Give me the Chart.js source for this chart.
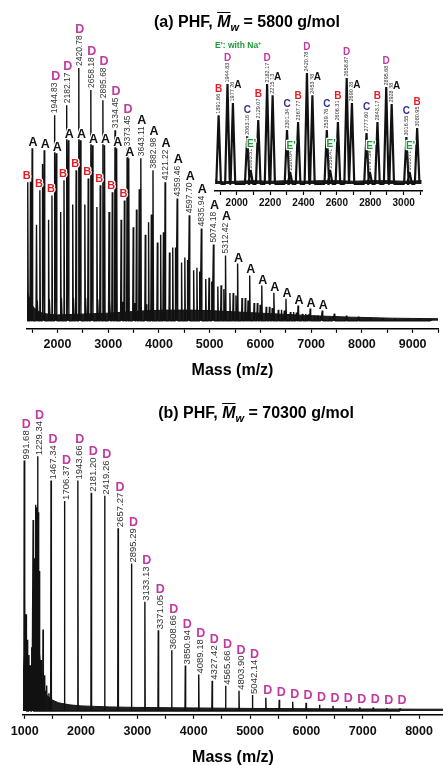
<!DOCTYPE html>
<html>
<head>
<meta charset="utf-8">
<script src="https://cdn.jsdelivr.net/npm/chart.js@4.4.0/dist/chart.umd.min.js"></script>
<style>
  body { margin: 0; width: 443px; height: 765px; position: relative; overflow: hidden; background: #fff;
         font-family: "Liberation Sans", Arial, sans-serif; }
  .box { position: absolute; }
  .ttl { position: absolute; font-weight: bold; font-size: 16px; line-height: 18px; white-space: nowrap;
         transform: translateX(-50%); color: #000; }
  .ttl .mw { font-style: italic; text-decoration: overline; }
  .ttl sub { font-style: italic; font-size: 11px; vertical-align: -4px; line-height: 0; }
  .na { position: absolute; font-weight: bold; font-size: 8.5px; color: #1f9a3a; white-space: nowrap; }
  .na sup { font-size: 6px; vertical-align: 3px; line-height: 0; }
</style>
</head>
<body>
<div class="box" style="left:0;top:0"><canvas id="chartA" width="443" height="385"></canvas></div>
<div class="box" style="left:205px;top:30px"><canvas id="chartInset" width="238" height="185"></canvas></div>
<div class="box" style="left:0;top:380px"><canvas id="chartB" width="443" height="387"></canvas></div>
<div class="ttl" style="left:247px;top:13px">(a) PHF, <span class="mw">M</span><sub>w</sub> = 5800 g/mol</div>
<div class="ttl" style="left:256px;top:404px">(b) PHF, <span class="mw">M</span><sub>w</sub> = 70300 g/mol</div>
<div class="na" style="left:215px;top:40px">E': with Na<sup>+</sup></div>
<script>
// ---- (a) PHF 5800: peak series (m/z, relative intensity) ----
const massA_a = [1500.8, 1739.0, 1977.26, 2215.13, 2453.38, 2690.28, 2928.38, 3166.6, 3404.9, 3643.11, 3882.98, 4121.22, 4359.46, 4597.70, 4835.94, 5074.18, 5312.42, 5550.7, 5788.9, 6027.1, 6265.4, 6503.6, 6741.8, 6980.1, 7218.3, 7456.6, 7694.8, 7933.0, 8171.3, 8409.5, 8647.8, 8886.0, 9124.2, 9362.5]
const intA_a = [68.3, 67.5, 66.3, 71.4, 71.4, 69.4, 69.4, 68.3, 64.3, 64.3, 59.5, 54.8, 48.4, 41.7, 36.5, 30.2, 25.8, 22.6, 17.9, 13.9, 11.1, 8.7, 6.0, 4.8, 4.0, 2.8, 2.0, 1.6, 1.2, 1.0, 0.8, 0.6, 0.5, 0.4]
const massB_a = [1415.0, 1653.2, 1891.66, 2129.07, 2367.77, 2606.31, 2843.17, 3080.95, 3319.2, 3557.4, 3795.7, 4033.9, 4272.1, 4510.4, 4748.6, 4986.9, 5225.1, 5463.4, 5701.6, 5939.8, 6178.1, 6416.3, 6654.6, 6892.8, 7131.1, 7369.3]
const intB_a = [54.8, 51.6, 49.6, 55.6, 59.5, 56.3, 53.6, 50.8, 47.6, 44, 39, 34, 29, 25, 21, 17, 14, 11, 9, 7, 5.5, 4.3, 3.4, 2.7, 2.1, 1.6]
const massC_a = [1587.2, 1825.3, 2063.16, 2301.34, 2539.76, 2777.60, 3016.55, 3254.8, 3493.0, 3731.3, 3969.5, 4207.8, 4446.0, 4684.3, 4922.5, 5160.8, 5399.0, 5637.3, 5875.5, 6113.8, 6352.0, 6590.3, 6828.5, 7066.8]
const intC_a = [38, 40, 43, 46, 46, 45, 43, 40, 37, 34, 31, 27, 23, 20, 16.5, 13.5, 11, 9, 7, 5.5, 4.3, 3.4, 2.7, 2.1]
const massD_a = [1468.2, 1706.0, 1944.83, 2182.17, 2420.78, 2658.18, 2895.68, 3134.45, 3373.45, 3612.0, 3850.3, 4088.5, 4326.8, 4565.0, 4803.3, 5041.5, 5279.8, 5518.0, 5756.3, 5994.5, 6232.8, 6471.0, 6709.3, 6947.5, 7185.8, 7424.0]
const intD_a = [55, 62, 81.3, 85.3, 100, 91.3, 87.3, 75.4, 68.3, 52, 42, 35, 29, 24, 19.5, 15.5, 12.5, 10, 8, 6.3, 5, 4, 3.2, 2.5, 1.9, 1.5]
const massE_a = [1607.5, 1845.5, 2083.51, 2320.04, 2559.41, 2797.59, 3035.71, 3274.0, 3512.2, 3750.5]
const intE_a = [8, 8.5, 9, 9, 9, 8.5, 8, 7.5, 7, 6.5]
// noise floor under the peaks
const bandMass_a = [1400, 1430, 1470, 1520, 1600, 1700, 1850, 2000, 2300, 2600, 3000, 3400, 3800, 4200, 4600, 5000, 5400, 5800, 6200, 6600, 7000, 7400, 7800, 8200, 8600, 9000, 9500]
const bandInt_a = [12, 10, 8, 5.5, 4, 3, 2.5, 2.3, 2.5, 2.7, 3, 3.5, 4, 4.2, 4.2, 4, 3.6, 3.2, 2.8, 2.4, 2, 1.7, 1.4, 1.2, 1, 0.9, 0.8]
const ticks_a = [1500, 2000, 2500, 3000, 3500, 4000, 4500, 5000, 5500, 6000, 6500, 7000, 7500, 8000, 8500, 9000, 9500]

// ---- (a) inset 1870-3110 ----
const massA_in = [1977.26, 2215.13, 2453.38, 2690.28, 2928.38]
const intA_in = [73, 80, 80, 73, 72]
const massB_in = [1891.66, 2129.07, 2367.77, 2606.31, 2843.17, 3080.95]
const intB_in = [62, 57.7, 55.9, 55.9, 55.9, 50.5]
const massC_in = [2063.16, 2301.34, 2539.76, 2777.60, 3016.55]
const intC_in = [43, 48.6, 48.6, 45.9, 42.3]
const massD_in = [1944.83, 2182.17, 2420.78, 2658.87, 2895.68]
const intD_in = [90, 90, 100, 95.5, 87.4]
const massE_in = [2083.51, 2320.04, 2559.41, 2797.59, 3035.71]
const intE_in = [12.6, 10.8, 12.6, 10.8, 10.8]
const bandMass_in = [1872, 1885, 1920, 2000, 2100, 2200, 2300, 2400, 2500, 2600, 2700, 2800, 2900, 3000, 3108]
const bandInt_in = [4, 2.5, 2, 2.5, 3, 2.5, 3, 2.5, 3, 3, 2.5, 3, 3, 2.5, 3]
const ticks_in = [1900, 2000, 2100, 2200, 2300, 2400, 2500, 2600, 2700, 2800, 2900, 3000, 3100]

// ---- (b) PHF 70300 ----
const massD_b = [991.68, 1229.34, 1467.34, 1706.37, 1943.66, 2181.20, 2419.26, 2657.27, 2895.29, 3133.13, 3371.05, 3608.66, 3850.94, 4089.18, 4327.42, 4565.66, 4803.90, 5042.14, 5280.4, 5518.6, 5756.9, 5995.1, 6233.4, 6471.6, 6709.9, 6948.1, 7186.4, 7424.6, 7662.9]
const intD_b = [98.4, 100, 90.5, 82.5, 90.5, 85.7, 84.5, 71.8, 57.9, 42.9, 31.7, 23.8, 17.9, 14.3, 11.9, 9.9, 7.9, 6.3, 5.2, 4.4, 3.6, 3.2, 2.4, 2.0, 2.0, 1.5, 1.4, 1.2, 1.0]
const massX_b = [1005, 1025, 1050, 1075, 1100, 1125, 1150, 1175, 1195, 1212, 1245, 1262, 1290, 1325, 1355, 1390, 1430]
const intX_b = [43, 38, 28, 22, 18, 25, 75, 60, 81, 80, 78, 55, 20, 32, 14, 10, 7]
const bandMass_b = [970, 990, 1010, 1050, 1100, 1150, 1200, 1250, 1300, 1350, 1400, 1500, 1600, 1800, 2000, 2500, 3000, 4000, 5000, 6000, 7000, 8000, 8425]
const bandInt_b = [12, 20, 26, 18, 13, 20, 32, 26, 13, 8.5, 6, 4.2, 3.2, 2.4, 2, 1.6, 1.4, 1.2, 1, 0.9, 0.8, 0.7, 0.7]
const ticks_b = [1000, 1500, 2000, 2500, 3000, 3500, 4000, 4500, 5000, 5500, 6000, 6500, 7000, 7500, 8000]

const FONT = '"Liberation Sans", Arial, sans-serif'
const colD = "#c23a9f", colB = "#e31e24", colC = "#2e3192", colE = "#1f9a3a"
Chart.defaults.font.family = FONT
Chart.defaults.color = "#000"

// each peak becomes a thin spike on the mass axis
function spikes(series, w) {
  const peaks = []
  series.forEach(([ms, hs]) => ms.forEach((m, i) => peaks.push([m, hs[i]])))
  peaks.sort((p, q) => p[0] - q[0])
  const pts = []
  peaks.forEach(([m, h]) => pts.push({ x: m - w, y: 0 }, { x: m, y: h }, { x: m + w, y: 0 }))
  return pts
}
const pairs = (ms, hs) => ms.map((m, i) => ({ x: m, y: hs[i] }))

// labels: rotated mass value + letter, placed over the peak top
function labels(ms, hs, from, to, st, withText) {
  const out = []
  for (let i = from; i < to; i++) {
    out.push(Object.assign({ m: ms[i], h: hs[i], text: withText ? ms[i].toFixed(2) : null }, st))
  }
  return out
}

const peakLabels = {
  id: "peakLabels",
  afterDatasetsDraw(chart, args, opts) {
    const { ctx } = chart
    const x = chart.scales.x, y = chart.scales.y
    ctx.save()
    opts.items.forEach(it => {
      const px = x.getPixelForValue(it.m)
      let top = y.getPixelForValue(it.h) - it.gap
      if (it.text) {
        ctx.font = it.numFont
        const w = ctx.measureText(it.text).width
        ctx.save()
        ctx.translate(px + (it.tdx || 0), top)
        ctx.rotate(-Math.PI / 2)
        ctx.fillStyle = "#333"
        ctx.textAlign = "left"
        ctx.textBaseline = "middle"
        ctx.fillText(it.text, 0, 0)
        ctx.restore()
        top -= w + it.lgap
      }
      ctx.font = it.letterFont
      ctx.textAlign = "center"
      ctx.textBaseline = "alphabetic"
      ctx.lineJoin = "round"
      ctx.lineWidth = 2.5
      ctx.strokeStyle = "#fff"
      const lx = px + (it.ldx || 0), ly = top + (it.ldy || 0)
      ctx.strokeText(it.letter, lx, ly)
      ctx.fillStyle = it.color
      ctx.fillText(it.letter, lx, ly)
    })
    ctx.restore()
  }
}

function xAxis(min, max, tickVals, labelStep, fontSize, tickPad, title) {
  return {
    type: "linear", min, max,
    afterBuildTicks: s => { s.ticks = tickVals.map(v => ({ value: v })) },
    ticks: {
      autoSkip: false, maxRotation: 0, padding: tickPad, color: "#111",
      font: { size: fontSize, weight: "bold" },
      callback: v => (v % labelStep === 0 ? String(v) : "")
    },
    grid: { drawOnChartArea: false, drawTicks: true, tickLength: 4, tickColor: "#000", tickWidth: 1.2 },
    border: { display: true, color: "#000", width: 1.5 },
    title: title
      ? { display: true, text: "Mass (m/z)", color: "#000", font: { size: 16, weight: "bold" }, padding: { top: title, bottom: 0 } }
      : { display: false }
  }
}

function spectrum(id, pts, band, lw, xs, ymin, ymax, pad, items) {
  return new Chart(document.getElementById(id), {
    type: "line",
    data: {
      datasets: [
        { data: pts, borderColor: "#111", borderWidth: lw, borderJoinStyle: "bevel", pointRadius: 0, fill: false },
        { data: band, borderColor: "#151515", borderWidth: 1, backgroundColor: "#1e1e1e", pointRadius: 0, fill: "origin" }
      ]
    },
    options: {
      responsive: false, animation: false, parsing: false, normalized: true,
      layout: { padding: pad },
      plugins: { legend: { display: false }, tooltip: { enabled: false }, peakLabels: { items } },
      scales: { x: xs, y: { type: "linear", display: false, min: ymin, max: ymax } }
    },
    plugins: [peakLabels]
  })
}

// ---- chart (a) ----
const stNum_a = { numFont: "8.5px " + FONT, gap: 2, lgap: 2.5, tdx: 0.5 }
const stA_a = Object.assign({ letter: "A", color: "#111", letterFont: "bold 12.5px " + FONT, ldx: 1 }, stNum_a)
const stD_a = Object.assign({}, stA_a, { letter: "D", color: colD })
const stB_a = { letter: "B", color: colB, letterFont: "bold 11px " + FONT, gap: 3.5, ldx: -1 }
const items_a = [].concat(
  labels(massD_a, intD_a, 2, 9, stD_a, true),
  labels(massA_a, intA_a, 9, 17, stA_a, true),
  labels(massA_a, intA_a, 0, 9, stA_a, false),
  labels(massA_a, intA_a, 17, 25, stA_a, false),
  labels(massB_a, intB_a, 0, 9, stB_a, false)
)
spectrum("chartA",
  spikes([[massA_a, intA_a], [massB_a, intB_a], [massC_a, intC_a], [massD_a, intD_a], [massE_a, intE_a]], 10),
  pairs(bandMass_a, bandInt_a), 1.4,
  xAxis(1400, 9500, ticks_a, 1000, 12.5, 4, 5),
  -3.2, 111.1, { left: 27, right: 5, top: 40, bottom: 5 }, items_a)

// ---- inset ----
const stNum_in = { numFont: "5.5px " + FONT, gap: 1.5, lgap: 1.5 }
const lf_in = "bold 10px " + FONT
const items_in = [].concat(
  labels(massB_in, intB_in, 0, 6, Object.assign({ letter: "B", color: colB, letterFont: lf_in }, stNum_in), true),
  labels(massD_in, intD_in, 0, 5, Object.assign({ letter: "D", color: colD, letterFont: lf_in }, stNum_in), true),
  labels(massA_in, intA_in, 0, 5, Object.assign({ letter: "A", color: "#111", letterFont: lf_in, ldx: 5, ldy: 8 }, stNum_in), true),
  labels(massC_in, intC_in, 0, 5, Object.assign({ letter: "C", color: colC, letterFont: lf_in }, stNum_in), true),
  labels(massE_in, intE_in, 0, 5, Object.assign({ letter: "E'", color: colE, letterFont: lf_in, ldx: 1 }, stNum_in), true)
)
spectrum("chartInset",
  spikes([[massA_in, intA_in], [massB_in, intB_in], [massC_in, intC_in], [massD_in, intD_in], [massE_in, intE_in]], 14),
  pairs(bandMass_in, bandInt_in), 2.2,
  xAxis(1870, 3110, ticks_in, 200, 10, 2, 0),
  -6.3, 120.7, { left: 10, right: 21, top: 20, bottom: 4 }, items_in)

// ---- chart (b) ----
const stD_b = { letter: "D", color: colD, letterFont: "bold 12.5px " + FONT, numFont: "9.5px " + FONT, gap: 1, lgap: 2, tdx: 2, ldx: 2 }
const items_b = [].concat(
  labels(massD_b, intD_b, 0, 18, stD_b, true),
  labels(massD_b, intD_b, 18, 29, Object.assign({}, stD_b, { gap: 4 }), false)
)
spectrum("chartB",
  spikes([[massD_b, intD_b], [massX_b, intX_b]], 6),
  pairs(bandMass_b, bandInt_b), 1.4,
  xAxis(970, 8425, ticks_b, 1000, 12.5, 5, 4),
  -1.5, 112.3, { left: 23, right: 0, top: 45, bottom: 0 }, items_b)
</script>
</body>
</html>
